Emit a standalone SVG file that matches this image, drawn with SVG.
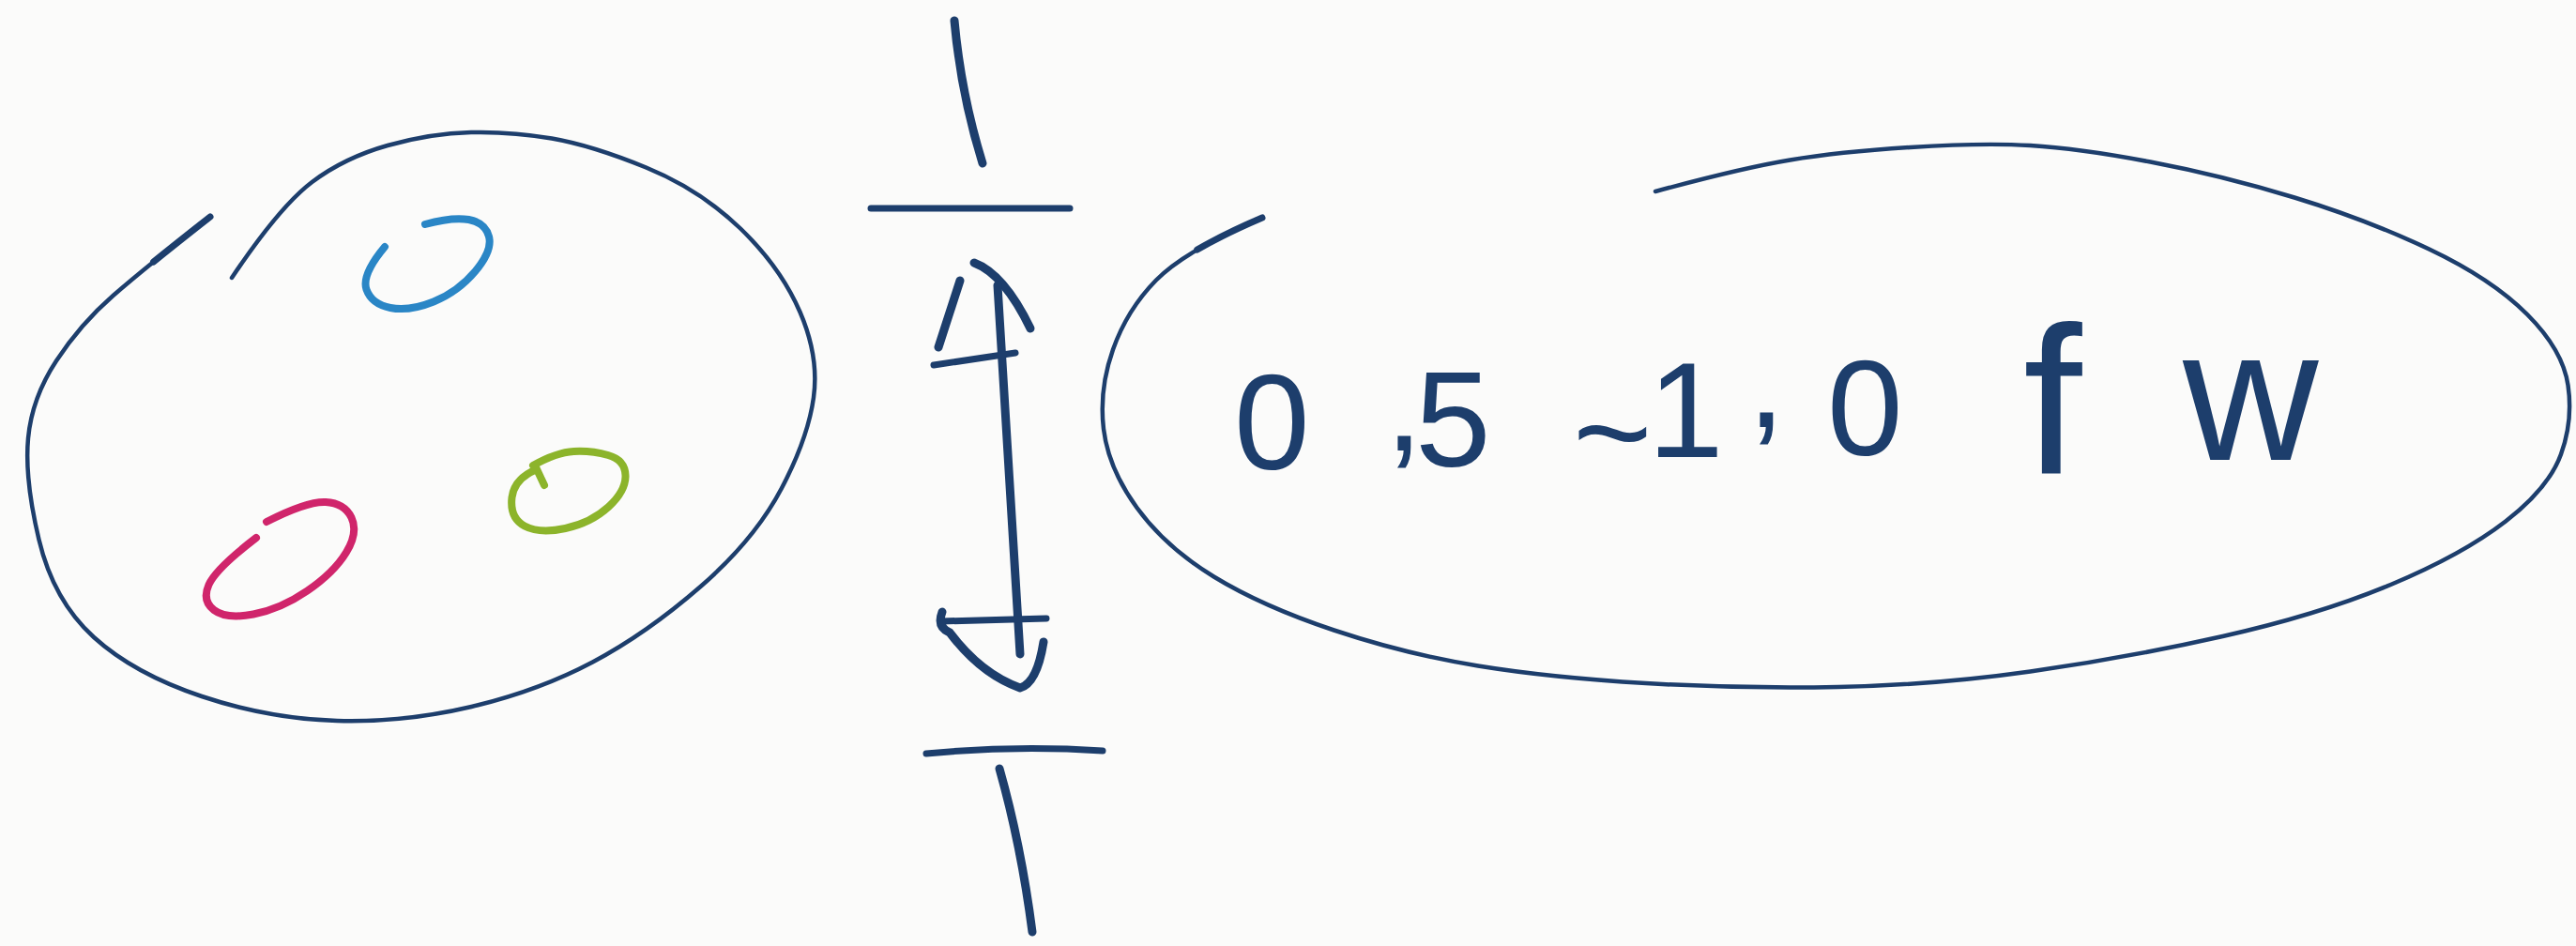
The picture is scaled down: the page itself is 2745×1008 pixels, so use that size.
<svg xmlns="http://www.w3.org/2000/svg" width="2745" height="1008" viewBox="0 0 2745 1008">
<style>
.ink{fill:none;stroke:#1d3e6c;stroke-linecap:round;stroke-linejoin:round}
.thin{stroke-width:4.5}
.med{stroke-width:7}
.thk{stroke-width:9}
.blue{fill:none;stroke:#2a86c6;stroke-width:8;stroke-linecap:round}
.pink{fill:none;stroke:#d0256b;stroke-width:8;stroke-linecap:round}
.green{fill:none;stroke:#8cb42b;stroke-width:8;stroke-linecap:round}
.hand{font-family:"Liberation Sans",Arial,sans-serif;font-size:145px;fill:#1d3e6c}
</style>
<rect width="2745" height="1008" fill="#fbfbfa"/>
<g id="set-left">
<path class="ink thin" d="M247,296 Q298,220 332.5,194 Q367,168 413,155 Q459,142 502,141 Q545,140 588,147.5 Q631,155 688.5,178.5 Q746,202 789,243.5 Q832,285 852.5,332.5 Q873,380 867,423.5 Q861,467 832.5,521 Q804,575 746.5,625 Q689,675 631.5,705.5 Q574,736 502.5,753 Q431,770 359,768 Q287,766 215,742 Q143,718 100,679 Q57,640 41.5,575 Q26,510 30,467 Q34,424 60,384.5 Q86,345 120.5,315 Q137.75,300 163.6,279"/>
<path class="ink" stroke-width="7" d="M163.6,279 Q189.5,258 224,231"/>
<path class="blue" d="M410,263 Q385,293 390.5,308.5 Q396,324 416,328 Q436,332 462,321.5 Q488,311 506.5,289 Q525,267 521,252 Q517,237 499.5,234 Q482,231 453,239"/>
<path class="pink" d="M273,573 Q230,606 222.5,623 Q215,640 228,650 Q241,660 270,654.5 Q299,649 327.5,629.5 Q356,610 369,588.5 Q382,567 374.5,551.5 Q367,536 347,535 Q327,534 284,556"/>
<path class="green" d="M580,517 L572,500 Q548,510 545.5,530 Q543,552 559,560.5 Q575,569 602.5,563 Q630,557 648.5,540 Q667,523 666.5,506.5 Q666,490 648,485 Q630,480 611.5,481 Q593,482 568,496"/>
</g>
<g id="dimension">
<path class="ink thk" d="M1017,22 Q1024,100 1047,174"/>
<path class="ink med" d="M928,222 L1140,222"/>
<path class="ink thk" d="M1023,299 L1000,370"/>
<path class="ink med" d="M995,389 L1082,376"/>
<path class="ink thk" d="M1038,280 Q1070,292 1098,350"/>
<path class="ink thk" d="M1063,304 Q1075,510 1087,697"/>
<path class="ink med" d="M1003,662 L1115,659"/>
<path class="ink thk" d="M1004,652 Q998,668 1012,674 Q1045,718 1087,733 Q1105,728 1112,684"/>
<path class="ink med" d="M987,803 Q1080,794 1175,800"/>
<path class="ink thk" d="M1065,819 Q1088,900 1100,993"/>
</g>
<g id="set-right">
<path class="ink thin" d="M1275.75,266.1 Q1247.5,282.75 1232,298.5 Q1201,330 1186,372.5 Q1171,415 1176,457 Q1181,499 1211.5,541 Q1242,583 1293.5,614.5 Q1345,646 1421.5,671.5 Q1498,697 1575,709.5 Q1652,722 1754,728 Q1856,734 1958.5,732 Q2061,730 2163.5,715.5 Q2266,701 2368.5,678 Q2471,655 2547.5,623 Q2624,591 2670,555.5 Q2716,520 2729,484 Q2742,448 2736.5,410.5 Q2731,373 2693,335 Q2655,297 2588.5,265.5 Q2522,234 2445,210.5 Q2368,187 2291.5,172.5 Q2215,158 2163.5,155 Q2112,152 2035.5,157 Q1959,162 1907.5,170.5 Q1856,179 1764,204"/>
<path class="ink" stroke-width="7" d="M1345,232 Q1304,249.5 1275.75,266.1"/>
<text class="hand" x="1315 1476 1508 1600 1676 1756 1862 1947 2060" y="500 480 497 497 510 487 455 485 485">0,5 ~1,0 <tspan x="2156" y="505" font-size="225">f</tspan><tspan x="2326" y="490" font-size="200">w</tspan></text>
</g>
</svg>
